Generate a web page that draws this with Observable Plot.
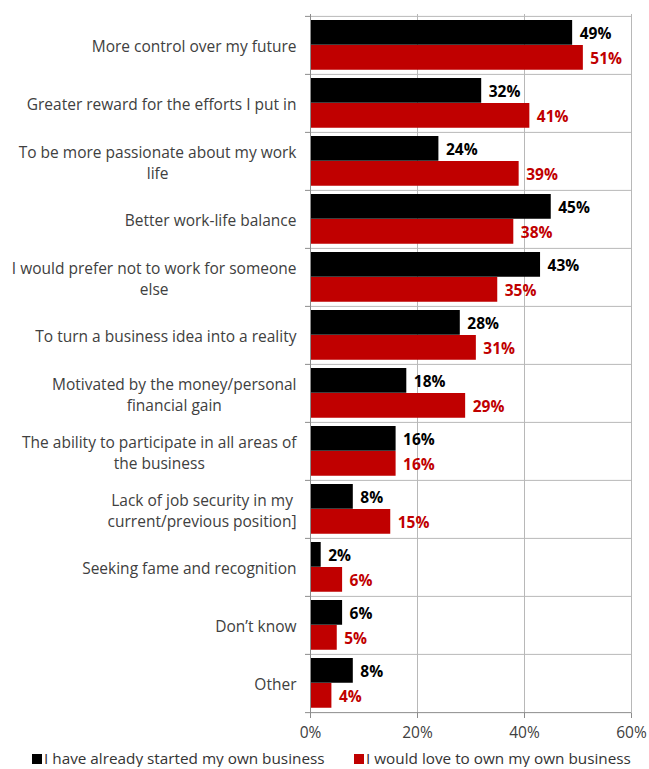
<!DOCTYPE html>
<html><head><meta charset="utf-8">
<script src="https://cdn.jsdelivr.net/npm/d3@7"></script>
<script src="https://cdn.jsdelivr.net/npm/@observablehq/plot@0.6"></script>
<style>
body{margin:0;background:#fff;font-family:"Open Sans",sans-serif;}
#legend{position:relative;height:18px;margin-top:-1px;font-size:15.3px;color:#333;line-height:18px;}
#legend .item{position:absolute;top:0;white-space:nowrap;}
#legend .sw{display:inline-block;width:10px;height:10px;margin-right:2px;vertical-align:0px;}
</style></head><body><div id="chart"></div><div id="legend"></div>
<script>
const categories = [
  "More control over my future",
  "Greater reward for the efforts I put in",
  "To be more passionate about my work\nlife",
  "Better work-life balance",
  "I would prefer not to work for someone\nelse",
  "To turn a business idea into a reality",
  "Motivated by the money/personal\nfinancial gain",
  "The ability to participate in all areas of\nthe business",
  "Lack of job security in my\ncurrent/previous position]",
  "Seeking fame and recognition",
  "Don\u2019t know",
  "Other"
];
const seriesNames = ["I have already started my own business", "I would love to own my own business"];
const started   = [49, 32, 24, 45, 43, 28, 18, 16, 8, 2, 6, 8];
const wouldLove = [51, 41, 39, 38, 35, 31, 29, 16, 15, 6, 5, 4];
const xTicks = [0, 20, 40, 60];
const colors = ["#000000", "#c00000"];

const W = 649, H = 750, mt = 14, mb = 37, ml = 310, mr = 18;
const bw = (H - mt - mb) / categories.length;
const half = bw / 2;
const barH = 25, gap = 4;

const s0 = categories.map((c, i) => ({cat: c, series: seriesNames[0], v: started[i]}));
const s1 = categories.map((c, i) => ({cat: c, series: seriesNames[1], v: wouldLove[i]}));

const grid = "#b8b8b8", axisC = "#8c8c8c";

const chart = Plot.plot({
  width: W, height: H,
  marginTop: mt, marginBottom: mb, marginLeft: ml, marginRight: mr,
  style: {fontFamily: "'Open Sans', sans-serif", fontSize: "15px", color: "#404040", background: "#fff"},
  x: {domain: [0, 60], label: null},
  y: {domain: categories, padding: 0, label: null},
  marks: [
    Plot.ruleX(xTicks.slice(1), {stroke: grid}),
    Plot.ruleY(categories, {dy: -half, stroke: grid}),
    Plot.barX(s0, {x: "v", y: "cat", fill: colors[0], insetTop: gap, insetBottom: bw - gap - barH}),
    Plot.barX(s1, {x: "v", y: "cat", fill: colors[1], insetTop: gap + barH, insetBottom: bw - gap - 2 * barH}),
    Plot.text(s0, {x: "v", y: "cat", text: d => d.v + "%", dx: 7, dy: -11, textAnchor: "start", fill: colors[0], fontWeight: "bold", fontSize: 15.5}),
    Plot.text(s1, {x: "v", y: "cat", text: d => d.v + "%", dx: 7, dy: 14, textAnchor: "start", fill: colors[1], fontWeight: "bold", fontSize: 15.5}),
    Plot.ruleX([0], {stroke: axisC}),
    Plot.ruleY([categories[categories.length - 1]], {dy: half, stroke: axisC}),
    Plot.axisY({tickSize: 5, tickFormat: () => "", dy: -half, stroke: axisC}),
    Plot.axisY([categories[categories.length - 1]], {tickSize: 5, tickFormat: () => "", dy: half, stroke: axisC}),
    Plot.axisY({tickSize: 0, tickPadding: 14, fontSize: 15.5, fill: "#404040", lineHeight: 1.36}),
    Plot.axisX(xTicks, {tickSize: 5, tickPadding: 8, tickFormat: d => d + "%", fontSize: 15.5, fill: "#404040", stroke: axisC})
  ]
});
document.getElementById("chart").appendChild(chart);

// center multi-line category labels within their block (right edge kept)
chart.querySelectorAll("text").forEach(t => {
  const spans = t.querySelectorAll("tspan");
  if (spans.length > 1) {
    let maxW = 0;
    spans.forEach(s => { maxW = Math.max(maxW, s.getComputedTextLength()); });
    t.setAttribute("text-anchor", "middle");
    spans.forEach(s => { s.setAttribute("text-anchor", "middle"); s.setAttribute("x", -maxW / 2); });
  }
});

const legend = document.getElementById("legend");
[[32, 0], [354, 1]].forEach(([left, k]) => {
  const it = document.createElement("span");
  it.className = "item";
  it.style.left = left + "px";
  it.innerHTML = `<span class="sw" style="background:${colors[k]}"></span>${seriesNames[k]}`;
  legend.appendChild(it);
});
</script>
</body></html>
